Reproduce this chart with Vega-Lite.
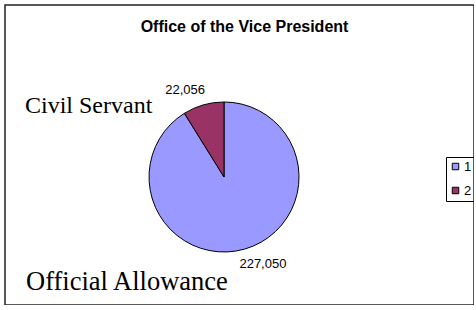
{
  "$schema": "https://vega.github.io/schema/vega-lite/v6.json",
  "autosize": "none",
  "padding": {"left": 5, "top": 5, "right": 0, "bottom": 0},
  "width": 469,
  "height": 300,
  "background": "white",
  "config": {
    "view": {"stroke": "#222", "strokeWidth": 1.5},
    "font": "Liberation Sans"
  },
  "title": {
    "text": "Office of the Vice President",
    "font": "Liberation Sans",
    "fontSize": 16,
    "fontWeight": "bold",
    "color": "#000",
    "anchor": "middle",
    "frame": "group",
    "baseline": "alphabetic",
    "offset": -43,
    "dx": 5
  },
  "data": {
    "values": [
      {"slice": "1", "value": 227050, "label": "Official Allowance"},
      {"slice": "2", "value": 22056, "label": "Civil Servant"}
    ]
  },
  "layer": [
    {
      "mark": {"type": "arc", "outerRadius": 75, "stroke": "#000", "strokeWidth": 1},
      "encoding": {
        "x": {"datum": 0.467, "type": "quantitative", "scale": {"domain": [0, 1], "nice": false, "zero": false}, "axis": null},
        "y": {"datum": 0.5733, "type": "quantitative", "scale": {"domain": [0, 1], "nice": false, "zero": false, "reverse": true}, "axis": null},
        "theta": {"field": "value", "type": "quantitative", "stack": true},
        "color": {
          "field": "slice",
          "type": "nominal",
          "scale": {"domain": ["1", "2"], "range": ["#9999FF", "#993366"]},
          "legend": {
            "title": null,
            "orient": "none",
            "legendX": 441,
            "legendY": 152,
            "symbolType": "square",
            "symbolSize": 42,
            "symbolStrokeColor": "#000",
            "symbolStrokeWidth": 1,
            "symbolOpacity": 1,
            "labelFont": "Liberation Sans",
            "labelFontSize": 13,
            "labelColor": "#000",
            "labelOffset": 2,
            "rowPadding": 10,
            "padding": 3,
            "strokeColor": "#000"
          }
        }
      }
    },
    {
      "mark": {"type": "text", "radius": 95, "thetaOffset": -0.7, "font": "Liberation Sans", "fontSize": 13, "color": "#000", "align": "center", "baseline": "middle"},
      "encoding": {
        "x": {"datum": 0.467, "type": "quantitative"},
        "y": {"datum": 0.5733, "type": "quantitative"},
        "theta": {"field": "value", "type": "quantitative", "stack": true},
        "detail": {"field": "slice", "type": "nominal"},
        "text": {"field": "value", "type": "quantitative", "format": ","}
      }
    },
    {
      "transform": [{"filter": "datum.slice == '2'"}],
      "mark": {"type": "text", "font": "Liberation Serif", "fontSize": 24, "color": "#000", "align": "left", "baseline": "alphabetic"},
      "encoding": {
        "x": {"datum": 0.0426, "type": "quantitative"},
        "y": {"datum": 0.36, "type": "quantitative"},
        "text": {"field": "label", "type": "nominal"}
      }
    },
    {
      "transform": [{"filter": "datum.slice == '1'"}],
      "mark": {"type": "text", "font": "Liberation Serif", "fontSize": 26.5, "color": "#000", "align": "left", "baseline": "alphabetic"},
      "encoding": {
        "x": {"datum": 0.0448, "type": "quantitative"},
        "y": {"datum": 0.95, "type": "quantitative"},
        "text": {"field": "label", "type": "nominal"}
      }
    }
  ]
}
